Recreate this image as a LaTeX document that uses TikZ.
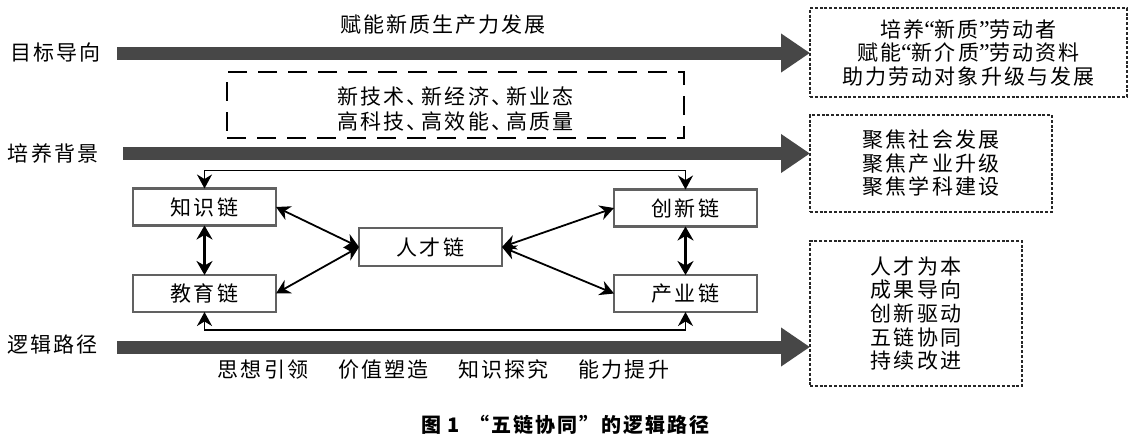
\documentclass[tikz,border=0pt]{standalone}
\usepackage{fontspec}
\setmainfont{Noto Sans CJK SC}[LetterSpace=10]
\newfontfamily\latq{Liberation Serif}
\newcommand{\myLQ}{{\latq\fontsize{24}{24}\selectfont “}}
\newcommand{\myRQ}{{\latq\fontsize{24}{24}\selectfont ”}}
\newcommand{\myDun}{、\kern-6pt}
\usetikzlibrary{arrows.meta,calc}
\begin{document}
\begin{tikzpicture}[x=1pt,y=-1pt,
  every node/.style={inner sep=0pt,outer sep=0pt},
  txt/.style={font=\fontsize{21}{23.5}\selectfont,align=center},
  chainbox/.style={txt,draw=black!62,line width=2.2pt,minimum width=143pt,minimum height=37pt},
  dotbox/.style={txt,draw=black!85,line width=2.8pt,dash pattern=on 3pt off 1.8pt},
  dashbox/.style={draw=black,line width=2.3pt,dash pattern=on 19pt off 11pt},
  bigarrow/.style={draw=black!72,line width=13pt,-{Triangle[length=29pt,width=37pt]}},
  link/.style={line width=1.8pt,{Stealth[length=14pt,width=15pt]}-{Stealth[length=14pt,width=15pt]}},
  vlink/.style={line width=2.6pt,{Stealth[length=14pt,width=16pt]}-{Stealth[length=14pt,width=16pt]}}
]
\fill[white] (0,0) rectangle (1134,439);
\useasboundingbox (0,0) rectangle (1134,439);

% left labels
\node[txt,anchor=west] (l1) at (10,52) {目标导向};
\node[txt,anchor=west] (l2) at (8,153) {培养背景};
\node[txt,anchor=west] (l3) at (7,345) {逻辑路径};

% top text
\node[txt] (top) at (443,25) {赋能新质生产力发展};

% right boxes
\node[dotbox,minimum width=317pt,minimum height=89pt] (b1) at (968.5,52.5)
  {培养\myLQ 新质\myRQ 劳动者\\赋能\myLQ 新介质\myRQ 劳动资料\\助力劳动对象升级与发展};
\node[dotbox,minimum width=242pt,minimum height=97pt] (b2) at (931,163.5)
  {聚焦社会发展\\聚焦产业升级\\聚焦学科建设};
\node[dotbox,font=\fontsize{21}{23.7}\selectfont,minimum width=212pt,minimum height=145pt] (b3) at (916,313.5)
  {人才为本\\成果导向\\创新驱动\\五链协同\\持续改进};

% dashed box
\node[dashbox,minimum width=457pt,minimum height=66pt] (d) at (455.5,105) {};
\node[txt,font=\fontsize{21}{25}\selectfont] (dt) at (455.5,109.5) {新技术\myDun 新经济\myDun 新业态\\高科技\myDun 高效能\myDun 高质量};

% big arrows
\coordinate (s1) at (117,53);
\coordinate (s2) at (123,153.5);
\coordinate (s3) at (117,347);
\draw[bigarrow] (s1) -- (s1 -| b1.west);
\draw[bigarrow] (s2) -- (s2 -| b2.west);
\draw[bigarrow] (s3) -- (s3 -| b3.west);

% chain boxes
\node[chainbox] (zhishi) at (204.5,207) {知识链};
\node[chainbox] (jiaoyu) at (204.5,293.5) {教育链};
\node[chainbox,minimum height=38pt] (rencai) at (430.5,247) {人才链};
\node[chainbox] (chuangxin) at (685.5,208) {创新链};
\node[chainbox] (chanye) at (685.5,293.5) {产业链};

% connectors
\draw[link] (zhishi.north) -- ++(0,-18) -| (chuangxin.north);
\draw[link] (jiaoyu.south) -- ++(0,18) -| (chanye.south);
\draw[vlink] (zhishi) -- (jiaoyu);
\draw[vlink] (chuangxin) -- (chanye);
\draw[link] (zhishi.east) -- (rencai.west);
\draw[link] (jiaoyu.east) -- (rencai.west);
\draw[link] (rencai.east) -- (chuangxin.west);
\draw[link] (rencai.east) -- (chanye.west);

% bottom text
\node[txt] (bot) at (443.5,370) {思想引领\hspace{30pt}价值塑造\hspace{30pt}知识探究\hspace{30pt}能力提升};

% caption
\node[font=\fontsize{20}{24}\selectfont\bfseries] (cap) at (565.5,425) {图 1\hspace{10pt}“五链协同”的逻辑路径};
\end{tikzpicture}
\end{document}
